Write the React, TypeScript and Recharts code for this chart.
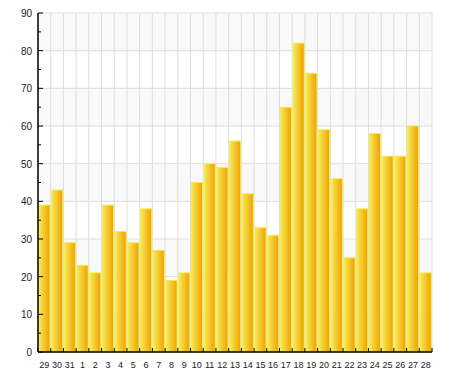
import React from 'react';
import { BarChart, Bar, XAxis, YAxis, CartesianGrid } from 'recharts';

// day labels (end of one month into the next)
const days = ['29', '30', '31', '1', '2', '3', '4', '5', '6', '7', '8', '9', '10', '11', '12', '13', '14', '15', '16', '17', '18', '19', '20', '21', '22', '23', '24', '25', '26', '27', '28'];
const counts = [39, 43, 29, 23, 21, 39, 32, 29, 38, 27, 19, 21, 45, 50, 49, 56, 42, 33, 31, 65, 82, 74, 59, 46, 25, 38, 58, 52, 52, 60, 21];
const yTicks = [0, 5, 10, 15, 20, 25, 30, 35, 40, 45, 50, 55, 60, 65, 70, 75, 80, 85, 90];
const gridValues = [0, 10, 20, 30, 40, 50, 60, 70, 80, 90];

const data = days.map((d, i) => ({ day: d, value: counts[i] }));

const W = 450;
const H = 379;
const margin = { top: 13, right: 18, left: 0, bottom: 0 };
const Y_W = 38;
const X_H = 27;
const plotW = W - margin.left - margin.right - Y_W;
const plotH = H - margin.top - margin.bottom - X_H;
const band = plotW / days.length;

const font = 'Liberation Sans, Arial, sans-serif';

const YTick = (props: any) => {
    const { x, payload } = props;
    const y = payload.coordinate;
    const axisX = x + 6;
    const major = payload.value % 10 === 0;
    return (
        <g>
            <line x1={axisX} x2={axisX + (major ? 5 : 3)} y1={y} y2={y} stroke="#000" />
            {major && (
                <text x={x} y={y} dy={4} textAnchor="end" fontSize={10} fontFamily={font} fill="#222">
                    {payload.value}
                </text>
            )}
        </g>
    );
};

const XTick = (props: any) => {
    const { payload, index } = props;
    const cx = payload.coordinate;
    const axisY = H - margin.bottom - X_H;
    const left = cx - band / 2;
    return (
        <g>
            <line x1={left} x2={left} y1={axisY} y2={axisY - 4} stroke="#000" />
            {index === days.length - 1 && (
                <line x1={cx + band / 2} x2={cx + band / 2} y1={axisY} y2={axisY - 4} stroke="#000" />
            )}
            <text x={cx} y={axisY + 16} textAnchor="middle" fontSize={9} fontFamily={font} fill="#222">
                {payload.value}
            </text>
        </g>
    );
};

export default function App() {
    return (
        <div style={{ position: 'absolute', left: 0, top: 0, width: W, height: H, background: '#fff' }}>
            <BarChart width={W} height={H} data={data} margin={margin} barCategoryGap={1}>
                <defs>
                    <linearGradient id="barFill" x1="0" y1="0" x2="1" y2="0">
                        <stop offset="0%" stopColor="#f6ea55" />
                        <stop offset="100%" stopColor="#f0a000" />
                    </linearGradient>
                </defs>
                <CartesianGrid
                    stroke="#dddddd"
                    horizontalFill={['#f9f9f9', '#ffffff']}
                    fillOpacity={1}
                    horizontalCoordinatesGenerator={({ offset }: any) =>
                        gridValues.map((v) => offset.top + offset.height * (1 - v / 90))
                    }
                    verticalCoordinatesGenerator={({ offset }: any) =>
                        days.map((_, i) => offset.left + i * (offset.width / days.length)).concat(offset.left + offset.width)
                    }
                />
                <XAxis
                    dataKey="day"
                    height={X_H}
                    interval={0}
                    tickLine={false}
                    axisLine={{ stroke: '#000', strokeWidth: 1.5 }}
                    tick={<XTick />}
                />
                <YAxis
                    width={Y_W}
                    domain={[0, 90]}
                    ticks={yTicks}
                    interval={0}
                    tickSize={0}
                    tickMargin={6}
                    tickLine={false}
                    axisLine={{ stroke: '#000', strokeWidth: 1.5 }}
                    tick={<YTick />}
                />
                <Bar dataKey="value" fill="url(#barFill)" stroke="#f4ec50" strokeWidth={1} isAnimationActive={false} />
            </BarChart>
        </div>
    );
}
